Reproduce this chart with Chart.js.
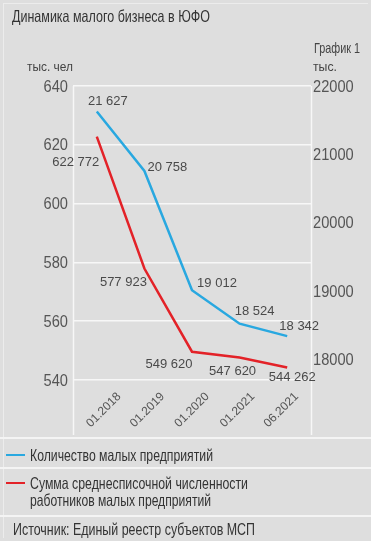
<!DOCTYPE html>
<html><head><meta charset="utf-8">
<script src="https://cdn.jsdelivr.net/npm/chart.js@4/dist/chart.umd.min.js"></script>
<style>
html,body{margin:0;padding:0;background:#dedede;}
#wrap{position:relative;width:371px;height:541px;background:#dedede;overflow:hidden;font-family:"Liberation Sans",Arial,sans-serif;color:#333;}
#cv{position:absolute;left:0;top:0;}
.t{position:absolute;white-space:nowrap;line-height:1;transform-origin:0 50%;}
.sep{position:absolute;left:0;width:371px;height:2px;background:#f4f4f4;}
.dash{position:absolute;height:2px;width:19px;}
.frame{position:absolute;left:3px;top:3px;width:364px;height:534px;border-left:1px solid #ececec;border-top:1px solid #ececec;}
</style></head>
<body><div id="wrap">
<div class="frame"></div>
<canvas id="cv" width="371" height="440"></canvas>
<div class="t" data-w="198" style="left:12px;top:8px;font-size:16.5px;color:#333">Динамика малого бизнеса в ЮФО</div>
<div class="t" data-w="46" style="left:314px;top:40px;font-size:15px;color:#444">График 1</div>
<div class="t" data-w="46" style="left:27px;top:61px;font-size:12.5px;color:#444">тыс. чел</div>
<div class="t" data-w="24" style="left:313px;top:61px;font-size:12.5px;color:#444">тыс.</div>
<div class="sep" style="top:437px"></div>
<div class="dash" style="left:6px;top:454px;background:#29a8e0"></div>
<div class="t" data-w="183" style="left:30px;top:447px;font-size:16.5px;color:#333">Количество малых предприятий</div>
<div class="sep" style="top:467px"></div>
<div class="dash" style="left:6px;top:482px;background:#e32228"></div>
<div class="t" data-w="218" style="left:30px;top:475px;font-size:16.5px;color:#333">Сумма среднесписочной численности</div>
<div class="t" data-w="181" style="left:30px;top:492px;font-size:16.5px;color:#333">работников малых предприятий</div>
<div class="sep" style="top:515px"></div>
<div class="t" data-w="242" style="left:13px;top:521px;font-size:16.5px;color:#333">Источник: Единый реестр субъектов МСП</div>
</div>
<script>
const categories = ["01.2018","01.2019","01.2020","01.2021","06.2021"];
const enterprises = [21627, 20758, 19012, 18524, 18342];          // units (right axis)
const employees = [622.772, 577.923, 549.620, 547.620, 544.262];  // thousand people (left axis)
const leftTicks = [540, 560, 580, 600, 620, 640];
const rightTicks = [18000, 19000, 20000, 21000, 22000];

const blueLabelOff = [[11,-10],[23,-3],[25,-7],[15,-12],[12,-10]];
const redLabelOff = [[-21,26],[-21,14],[-23,13],[-7,14],[5,10]];
const xLabelDx = [7,3,0,-2,-6];
const NARROW = 0.86;

document.querySelectorAll('.t[data-w]').forEach(el=>{
  const w = el.getBoundingClientRect().width;
  el.style.transform = 'scaleX(' + (parseFloat(el.dataset.w)/w) + ')';
});

function fmt(n){ return String(Math.round(n)).replace(/\B(?=(\d{3})+(?!\d))/g,' '); }
function narrowText(ctx, text, x, y, align){
  ctx.save();
  ctx.translate(x, y); ctx.scale(NARROW, 1);
  ctx.textAlign = align; ctx.textBaseline = 'middle';
  ctx.fillText(text, 0, 0);
  ctx.restore();
}

const extras = {
  id:'extras',
  beforeDatasetsDraw(chart){
    const ctx = chart.ctx, a = chart.chartArea;
    ctx.save();
    ctx.strokeStyle = '#f7f7f7'; ctx.lineWidth = 1.5;
    [a.left, a.right].forEach(x=>{
      ctx.beginPath(); ctx.moveTo(Math.round(x)+0.5, a.top); ctx.lineTo(Math.round(x)+0.5, 435); ctx.stroke();
    });
    ctx.fillStyle = '#555';
    ctx.font = '17px "Liberation Sans", Arial, sans-serif';
    const yl = chart.scales.y, yr = chart.scales.y2;
    leftTicks.forEach(v=> narrowText(ctx, String(v), a.left - 5, yl.getPixelForValue(v) + 1, 'right'));
    rightTicks.forEach(v=> narrowText(ctx, String(v), a.right + 2, yr.getPixelForValue(v) + 1, 'left'));
    const xs = chart.scales.x;
    ctx.font = '12px "Liberation Sans", Arial, sans-serif';
    ctx.textAlign = 'center'; ctx.textBaseline = 'middle';
    categories.forEach((c,i)=>{
      const x = xs.getPixelForValue(i) + xLabelDx[i];
      ctx.save(); ctx.translate(x, 410); ctx.rotate(-Math.PI/4); ctx.fillText(c,0,0); ctx.restore();
    });
    ctx.restore();
  },
  afterDatasetsDraw(chart){
    const ctx = chart.ctx;
    ctx.save();
    ctx.fillStyle = '#4a4a4a';
    ctx.font = '13px "Liberation Sans", Arial, sans-serif';
    ctx.textAlign = 'center'; ctx.textBaseline = 'middle';
    const m0 = chart.getDatasetMeta(0), m1 = chart.getDatasetMeta(1);
    m0.data.forEach((p,i)=>{ ctx.fillText(fmt(enterprises[i]), p.x+blueLabelOff[i][0], p.y+blueLabelOff[i][1]); });
    m1.data.forEach((p,i)=>{ ctx.fillText(fmt(employees[i]*1000), p.x+redLabelOff[i][0], p.y+redLabelOff[i][1]); });
    ctx.restore();
  }
};

new Chart(document.getElementById('cv'), {
  type:'line',
  data:{
    labels: categories,
    datasets:[
      {label:'Количество малых предприятий', data: enterprises, yAxisID:'y2', borderColor:'#29a8e0', borderWidth:2.5, pointRadius:0, tension:0, fill:false},
      {label:'Сумма среднесписочной численности работников малых предприятий', data: employees, yAxisID:'y', borderColor:'#e32228', borderWidth:2.5, pointRadius:0, tension:0, fill:false}
    ]
  },
  options:{
    responsive:false, animation:false,
    layout:{padding:{top:86, bottom:60, left:0, right:0}},
    plugins:{legend:{display:false}, tooltip:{enabled:false}},
    scales:{
      x:{display:false, offset:true},
      y:{position:'left', min:540, max:640,
        afterBuildTicks(s){ s.ticks = leftTicks.map(v=>({value:v})); },
        afterFit(s){ s.width = 73; },
        grid:{color:'#f7f7f7', lineWidth:1.5, drawTicks:false},
        border:{display:false},
        ticks:{display:false}
      },
      y2:{position:'right', min:17700, max:22000,
        afterBuildTicks(s){ s.ticks = rightTicks.map(v=>({value:v})); },
        afterFit(s){ s.width = 60; },
        grid:{display:false, drawTicks:false},
        border:{display:false},
        ticks:{display:false}
      }
    }
  },
  plugins:[extras]
});
</script>
</body></html>
